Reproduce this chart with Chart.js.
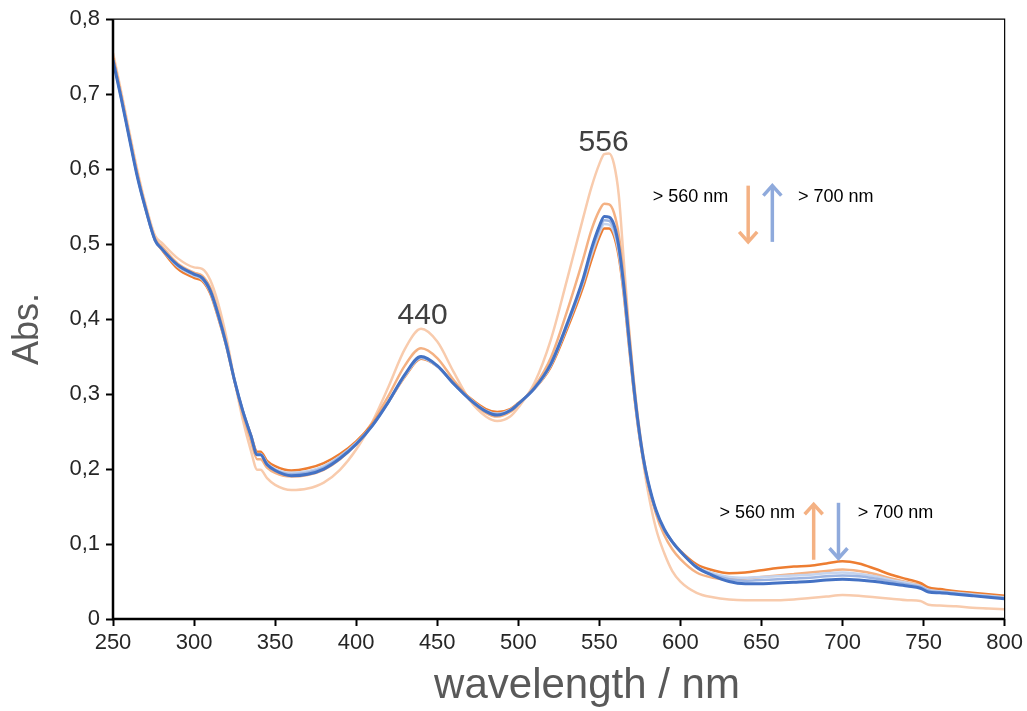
<!DOCTYPE html>
<html lang="en">
<head>
    <meta charset="UTF-8">
    <title>Absorption spectra</title>
    <script src="https://cdn.jsdelivr.net/npm/chart.js"></script>
    <style>
        * { margin: 0; padding: 0; box-sizing: border-box; }
        body { background: #fff; width: 1027px; height: 711px; overflow: hidden; }
        .wrap { position: relative; width: 1027px; height: 711px; }
    </style>
</head>
<body>
    <div class="wrap"><canvas id="spectra"></canvas></div>

    <script>
        // wavelength grid (nm)
        const wavelengths = [250,255,260,265,270,276,280,290,300,305,310,315,320,325,330,335,339,341,345,350,360,370,380,390,400,410,420,430,440,450,460,470,480,487,495,500,510,520,530,540,545,550,553,556,559,562,565,568,571,574,577,580,585,590,595,600,610,620,630,640,650,660,670,680,690,700,710,720,730,740,748,753,760,770,780,790,800];

        // start spectrum, then irradiation > 560 nm (orange), then > 700 nm (blue)
        const absStart = [0.755,0.704,0.651,0.599,0.554,0.511,0.502,0.481,0.469,0.467,0.452,0.420,0.375,0.318,0.266,0.225,0.199,0.199,0.188,0.179,0.172,0.174,0.182,0.199,0.226,0.263,0.310,0.360,0.387,0.370,0.330,0.292,0.270,0.264,0.270,0.282,0.315,0.372,0.452,0.535,0.575,0.607,0.620,0.621,0.607,0.565,0.480,0.395,0.322,0.260,0.210,0.170,0.120,0.088,0.064,0.050,0.035,0.029,0.026,0.025,0.025,0.025,0.026,0.028,0.030,0.032,0.031,0.029,0.027,0.025,0.024,0.019,0.018,0.017,0.015,0.014,0.013];
        const abs560a = [0.750,0.699,0.646,0.594,0.550,0.507,0.497,0.474,0.462,0.458,0.442,0.409,0.368,0.318,0.274,0.238,0.213,0.213,0.202,0.195,0.190,0.192,0.199,0.213,0.234,0.262,0.298,0.338,0.361,0.348,0.319,0.293,0.275,0.270,0.276,0.286,0.310,0.348,0.410,0.480,0.518,0.545,0.554,0.553,0.542,0.512,0.458,0.390,0.323,0.265,0.219,0.183,0.140,0.112,0.093,0.080,0.062,0.055,0.053,0.054,0.056,0.058,0.060,0.062,0.064,0.066,0.064,0.060,0.054,0.049,0.045,0.040,0.038,0.035,0.033,0.031,0.029];
        const abs560b = [0.748,0.697,0.644,0.592,0.548,0.505,0.493,0.467,0.455,0.451,0.434,0.401,0.363,0.317,0.278,0.246,0.223,0.223,0.211,0.204,0.198,0.201,0.208,0.220,0.237,0.260,0.290,0.323,0.347,0.337,0.315,0.295,0.280,0.276,0.280,0.288,0.307,0.336,0.386,0.443,0.478,0.509,0.521,0.521,0.511,0.483,0.434,0.370,0.308,0.254,0.213,0.181,0.143,0.119,0.103,0.091,0.073,0.065,0.061,0.062,0.065,0.068,0.070,0.071,0.074,0.077,0.074,0.067,0.059,0.053,0.048,0.042,0.040,0.037,0.035,0.033,0.031];
        const abs700a = [0.746,0.696,0.643,0.591,0.548,0.505,0.494,0.470,0.458,0.453,0.436,0.403,0.364,0.318,0.278,0.245,0.220,0.220,0.208,0.200,0.195,0.197,0.204,0.217,0.235,0.258,0.290,0.324,0.348,0.337,0.314,0.294,0.278,0.274,0.279,0.287,0.307,0.338,0.390,0.449,0.485,0.515,0.527,0.526,0.516,0.488,0.438,0.374,0.311,0.256,0.214,0.182,0.144,0.119,0.103,0.090,0.070,0.061,0.056,0.055,0.056,0.057,0.058,0.059,0.061,0.062,0.060,0.057,0.052,0.048,0.044,0.039,0.037,0.035,0.033,0.031,0.029];
        const abs700b = [0.746,0.696,0.643,0.591,0.548,0.505,0.494,0.471,0.459,0.454,0.437,0.404,0.365,0.318,0.278,0.245,0.219,0.219,0.207,0.199,0.193,0.195,0.202,0.216,0.234,0.258,0.290,0.325,0.349,0.337,0.314,0.293,0.277,0.273,0.278,0.287,0.308,0.339,0.391,0.451,0.489,0.519,0.532,0.531,0.521,0.493,0.442,0.377,0.313,0.258,0.215,0.183,0.144,0.119,0.103,0.090,0.069,0.059,0.053,0.051,0.052,0.053,0.054,0.055,0.057,0.058,0.057,0.054,0.050,0.046,0.043,0.038,0.036,0.034,0.032,0.030,0.028];
        const abs700c = [0.745,0.695,0.642,0.590,0.548,0.505,0.494,0.472,0.460,0.455,0.438,0.405,0.365,0.318,0.278,0.245,0.219,0.219,0.206,0.198,0.191,0.193,0.200,0.214,0.233,0.258,0.290,0.326,0.350,0.338,0.314,0.293,0.277,0.272,0.278,0.287,0.308,0.340,0.393,0.454,0.493,0.524,0.537,0.536,0.526,0.497,0.446,0.380,0.315,0.260,0.216,0.184,0.145,0.120,0.103,0.090,0.069,0.058,0.050,0.047,0.047,0.048,0.049,0.050,0.052,0.053,0.052,0.050,0.047,0.044,0.041,0.036,0.035,0.033,0.031,0.029,0.027];

        const xTicks = [250,300,350,400,450,500,550,600,650,700,750,800];
        const yTicks = ['0','0,1','0,2','0,3','0,4','0,5','0,6','0,7','0,8'];

        const series = [
            { data: absStart, color: '#F8CBAD', width: 2.5 },
            { data: abs560a, color: '#F4B183', width: 2.5 },
            { data: abs560b, color: '#ED7D31', width: 2.5 },
            { data: abs700a, color: '#C5D4EE', width: 2.5 },
            { data: abs700b, color: '#9DB5E2', width: 2.5 },
            { data: abs700c, color: '#4472C4', width: 3 }
        ];

        const FONT = "'Liberation Sans', Arial, sans-serif";

        // text, arrows and frame drawn on top, positioned in data units
        const notes = {
            id: 'notes',
            afterDatasetsDraw(chart) {
                const { ctx, chartArea: a, scales: { x, y } } = chart;
                ctx.save();

                // frame
                ctx.strokeStyle = '#000';
                ctx.lineWidth = 1.2;
                ctx.beginPath();
                ctx.moveTo(a.left, a.top);
                ctx.lineTo(a.right, a.top);
                ctx.lineTo(a.right, a.bottom);
                ctx.stroke();
                ctx.lineWidth = 2.5;
                ctx.beginPath();
                ctx.moveTo(a.left, a.top);
                ctx.lineTo(a.left, a.bottom);
                ctx.lineTo(a.right, a.bottom);
                ctx.stroke();

                // peak labels
                ctx.fillStyle = '#404040';
                ctx.font = '30px ' + FONT;
                ctx.textAlign = 'center';
                ctx.textBaseline = 'middle';
                ctx.fillText('440', x.getPixelForValue(441), y.getPixelForValue(0.405));
                ctx.fillText('556', x.getPixelForValue(552.6), y.getPixelForValue(0.635));

                // arrows
                const arrow = (wl, v0, v1, color) => {
                    const px = x.getPixelForValue(wl);
                    const p0 = y.getPixelForValue(v0), p1 = y.getPixelForValue(v1);
                    const dir = p1 > p0 ? 1 : -1;
                    ctx.strokeStyle = color;
                    ctx.lineWidth = 3.5;
                    ctx.lineCap = 'butt';
                    ctx.beginPath();
                    ctx.moveTo(px, p0);
                    ctx.lineTo(px, p1);
                    ctx.stroke();
                    ctx.beginPath();
                    ctx.moveTo(px - 9, p1 - dir * 10);
                    ctx.lineTo(px, p1);
                    ctx.lineTo(px + 9, p1 - dir * 10);
                    ctx.stroke();
                };
                arrow(641.8, 0.578, 0.503, '#F4B183');
                arrow(656.7, 0.503, 0.578, '#8FAADC');
                arrow(682.2, 0.079, 0.153, '#F4B183');
                arrow(697.5, 0.155, 0.081, '#8FAADC');

                ctx.fillStyle = '#000';
                ctx.font = '18px ' + FONT;
                ctx.textAlign = 'right';
                ctx.fillText('> 560 nm', x.getPixelForValue(629.5), y.getPixelForValue(0.563));
                ctx.fillText('> 560 nm', x.getPixelForValue(670.7), y.getPixelForValue(0.142));
                ctx.textAlign = 'left';
                ctx.fillText('> 700 nm', x.getPixelForValue(672.5), y.getPixelForValue(0.563));
                ctx.fillText('> 700 nm', x.getPixelForValue(709.4), y.getPixelForValue(0.142));

                // axis titles
                ctx.fillStyle = '#595959';
                ctx.font = '42px ' + FONT;
                ctx.textAlign = 'center';
                ctx.fillText('wavelength / nm', 587, 686);
                ctx.save();
                ctx.translate(28, 329);
                ctx.rotate(-Math.PI / 2);
                ctx.font = '36px ' + FONT;
                ctx.fillText('Abs.', 0, 0);
                ctx.restore();

                ctx.restore();
            }
        };

        new Chart(document.getElementById('spectra'), {
            type: 'line',
            data: {
                datasets: series.map((s, i) => ({
                    data: s.data.map((v, k) => ({ x: wavelengths[k], y: v })),
                    borderColor: s.color,
                    borderWidth: s.width,
                    pointRadius: 0,
                    fill: false,
                    cubicInterpolationMode: 'monotone',
                    order: series.length - i
                }))
            },
            options: {
                responsive: true,
                maintainAspectRatio: false,
                animation: false,
                events: [],
                layout: { padding: { left: 0, right: 22, top: 19, bottom: 0 } },
                plugins: { legend: { display: false }, tooltip: { enabled: false } },
                scales: {
                    x: {
                        type: 'linear',
                        min: 250,
                        max: 800,
                        afterBuildTicks: s => { s.ticks = xTicks.map(v => ({ value: v })); },
                        afterFit: s => { s.height = 92; },
                        grid: { drawOnChartArea: false, drawTicks: true, tickLength: 7, tickWidth: 2, tickColor: '#000' },
                        border: { display: false },
                        ticks: { color: '#262626', padding: 4, font: { family: FONT, size: 22 }, maxRotation: 0 }
                    },
                    y: {
                        min: 0,
                        max: 0.8,
                        ticks: {
                            stepSize: 0.1,
                            color: '#262626',
                            padding: 6,
                            font: { family: FONT, size: 22 },
                            callback: (v, i) => yTicks[i]
                        },
                        afterFit: s => { s.width = 113; },
                        grid: { drawOnChartArea: false, drawTicks: true, tickLength: 7, tickWidth: 2, tickColor: '#000' },
                        border: { display: false }
                    }
                }
            },
            plugins: [notes]
        });
    </script>
</body>
</html>
